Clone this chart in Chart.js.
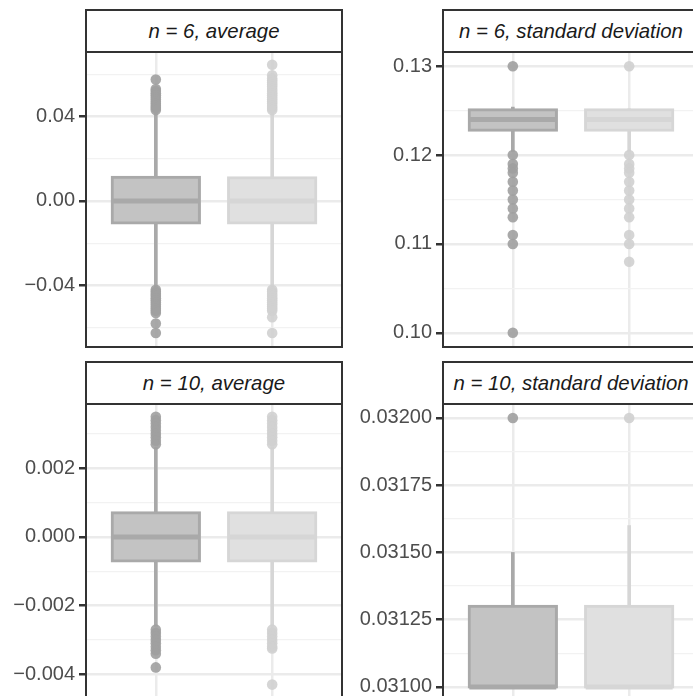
<!DOCTYPE html>
<html>
<head>
<meta charset="utf-8">
<script src="https://cdn.jsdelivr.net/npm/chart.js@4.4.1/dist/chart.umd.min.js"></script>
<style>
  html, body { margin:0; padding:0; background:#fff; overflow:hidden; width:693px; height:696px; }
  .strip { position:absolute; box-sizing:border-box; border:2px solid #333; background:#fff;
           font-family:"Liberation Sans", Arial, sans-serif; font-style:italic; font-size:20.4px; color:#1a1a1a;
           display:flex; align-items:center; justify-content:center; white-space:nowrap; }
  canvas { position:absolute; }
</style>
</head>
<body>
<script>
// ---------- data ----------
const categories = ['A', 'B'];           // two groups (x labels not shown in the crop)
const panelTitles = ['n = 6, average', 'n = 6, standard deviation', 'n = 10, average', 'n = 10, standard deviation'];

// panel 1: n = 6, average
const p1Q1 = [-0.0104, -0.0104];
const p1Med = [0.0, 0.0];
const p1Q3 = [0.0112, 0.0110];
const p1WhiskerLow = [-0.042, -0.042];
const p1WhiskerHigh = [0.042, 0.042];
const p1OutA = [0.0575, 0.053, 0.052, 0.051, 0.050, 0.049, 0.048, 0.047, 0.046, 0.045, 0.044, 0.043,
                -0.042, -0.043, -0.044, -0.045, -0.046, -0.047, -0.048, -0.049, -0.050, -0.051, -0.052, -0.053, -0.058, -0.0625];
const p1OutB = [0.0645, 0.0595, 0.058, 0.057, 0.056, 0.055, 0.054, 0.053, 0.052, 0.051, 0.050, 0.049, 0.048, 0.047, 0.046, 0.045, 0.044, 0.043,
                -0.042, -0.043, -0.044, -0.045, -0.046, -0.047, -0.048, -0.049, -0.050, -0.051, -0.052, -0.055, -0.0625];
const p1Major = [-0.04, 0.0, 0.04];
const p1Minor = [-0.06, -0.02, 0.02, 0.06];
const p1Labels = ['\u22120.04', '0.00', '0.04'];

// panel 2: n = 6, standard deviation
const p2Q1 = [0.1228, 0.1228];
const p2Med = [0.1240, 0.1240];
const p2Q3 = [0.1251, 0.1251];
const p2WhiskerLow = [0.1204, 0.1204];
const p2WhiskerHigh = [0.1254, 0.1252];
const p2OutA = [0.130, 0.120, 0.119, 0.1185, 0.118, 0.117, 0.116, 0.115, 0.114, 0.113, 0.111, 0.110, 0.100];
const p2OutB = [0.130, 0.120, 0.119, 0.1185, 0.118, 0.117, 0.116, 0.115, 0.114, 0.113, 0.111, 0.110, 0.108];
const p2Major = [0.10, 0.11, 0.12, 0.13];
const p2Minor = [0.105, 0.115, 0.125];
const p2Labels = ['0.10', '0.11', '0.12', '0.13'];

// panel 3: n = 10, average
const p3Q1 = [-0.0007, -0.0007];
const p3Med = [0.0, 0.0];
const p3Q3 = [0.0007, 0.0007];
const p3WhiskerLow = [-0.0026, -0.0026];
const p3WhiskerHigh = [0.0026, 0.0026];
const p3OutA = [0.0035, 0.0034, 0.0033, 0.0032, 0.0031, 0.0030, 0.0029, 0.0028, 0.0027,
                -0.0027, -0.0028, -0.0029, -0.0030, -0.0031, -0.0032, -0.0033, -0.0034, -0.0038];
const p3OutB = [0.0035, 0.0034, 0.0033, 0.0032, 0.0031, 0.0030, 0.0029, 0.0028, 0.0027,
                -0.0027, -0.0028, -0.0029, -0.0030, -0.0031, -0.0032, -0.00325, -0.0043];
const p3Major = [-0.004, -0.002, 0.0, 0.002];
const p3Minor = [-0.005, -0.003, -0.001, 0.001, 0.003];
const p3Labels = ['\u22120.004', '\u22120.002', '0.000', '0.002'];

// panel 4: n = 10, standard deviation
const p4Q1 = [0.03100, 0.03100];
const p4Med = [0.03100, 0.03100];
const p4Q3 = [0.03130, 0.03130];
const p4WhiskerLow = [0.03100, 0.03100];
const p4WhiskerHigh = [0.03150, 0.03160];
const p4OutA = [0.03200];
const p4OutB = [0.03200];
const p4Major = [0.03100, 0.03125, 0.03150, 0.03175, 0.03200];
const p4Minor = [0.031125, 0.031375, 0.031625, 0.031875];
const p4Labels = ['0.03100', '0.03125', '0.03150', '0.03175', '0.03200'];

// y ranges (panel limits)
const yRanges = [[-0.0691, 0.0705], [0.0984, 0.1316], [-0.00472, 0.00387], [0.030955, 0.032052]];

// ---------- styling ----------
const boxFill = ['#c3c3c3', '#e0e0e0'];
const boxLine = ['#a9a9a9', '#d6d6d6'];
const pointCol = ['rgba(160,160,160,0.9)', 'rgba(208,208,208,0.9)'];
const FONT = '"Liberation Sans", Arial, sans-serif';

const panels = [
  {title: panelTitles[0], left: 86, top: 52, q1: p1Q1, med: p1Med, q3: p1Q3, wl: p1WhiskerLow, wh: p1WhiskerHigh, out: [p1OutA, p1OutB], major: p1Major, minor: p1Minor, labels: p1Labels, range: yRanges[0]},
  {title: panelTitles[1], left: 443, top: 52, q1: p2Q1, med: p2Med, q3: p2Q3, wl: p2WhiskerLow, wh: p2WhiskerHigh, out: [p2OutA, p2OutB], major: p2Major, minor: p2Minor, labels: p2Labels, range: yRanges[1]},
  {title: panelTitles[2], left: 86, top: 404, q1: p3Q1, med: p3Med, q3: p3Q3, wl: p3WhiskerLow, wh: p3WhiskerHigh, out: [p3OutA, p3OutB], major: p3Major, minor: p3Minor, labels: p3Labels, range: yRanges[2]},
  {title: panelTitles[3], left: 443, top: 404, q1: p4Q1, med: p4Med, q3: p4Q3, wl: p4WhiskerLow, wh: p4WhiskerHigh, out: [p4OutA, p4OutB], major: p4Major, minor: p4Minor, labels: p4Labels, range: yRanges[3]},
];

const PW = 256, PH = 295, AXW = 86, PAD = 20, STRIP = 43;

const borderPlugin = {
  id: 'panelBorder',
  afterDraw(chart) {
    const {ctx, chartArea: a} = chart;
    ctx.save();
    ctx.strokeStyle = '#333';
    ctx.lineWidth = 2;
    ctx.strokeRect(a.left, a.top, a.right - a.left, a.bottom - a.top);
    ctx.restore();
  }
};

panels.forEach((p, pi) => {
  // strip
  const s = document.createElement('div');
  s.className = 'strip';
  s.style.left = (p.left - 1) + 'px';
  s.style.top = (p.top - STRIP) + 'px';
  s.style.width = (PW + 2) + 'px';
  s.style.height = (STRIP + 1) + 'px';
  s.textContent = p.title;
  document.body.appendChild(s);

  const c = document.createElement('canvas');
  c.style.left = (p.left - AXW) + 'px';
  c.style.top = (p.top - PAD) + 'px';
  c.width = AXW + PW + PAD; c.height = PH + 2 * PAD;
  c.style.width = c.width + 'px'; c.style.height = c.height + 'px';
  document.body.insertBefore(c, document.body.firstChild);

  const allTicks = p.major.concat(p.minor).sort((a, b) => a - b);
  const labelFor = v => { const i = p.major.findIndex(m => Math.abs(m - v) < 1e-9); return i >= 0 ? p.labels[i] : ''; };
  const isMajor = v => p.major.some(m => Math.abs(m - v) < 1e-9);

  const datasets = [];
  // whiskers (lower & upper), drawn as thin floating bars
  [0, 1].forEach(g => {
    datasets.push({
      type: 'bar', grouped: false, order: 3,
      data: [{x: g + 1, y: [p.wl[g], p.q1[g]]}, {x: g + 1, y: [p.q3[g], p.wh[g]]}],
      backgroundColor: boxLine[g], borderWidth: 0, barThickness: 3,
    });
  });
  // boxes
  [0, 1].forEach(g => {
    datasets.push({
      type: 'bar', grouped: false, order: 2,
      data: [{x: g + 1, y: [p.q1[g], p.q3[g]]}],
      backgroundColor: boxFill[g], borderColor: boxLine[g], borderWidth: 3,
      borderSkipped: false, inflateAmount: 1.5,
      barPercentage: 0.75, categoryPercentage: 1,
    });
  });
  // medians
  [0, 1].forEach(g => {
    datasets.push({
      type: 'scatter', order: 1,
      data: [{x: g + 1, y: p.med[g]}],
      pointStyle: 'line', pointRadius: 43.5, borderColor: boxLine[g], borderWidth: 5,
    });
  });
  // outliers
  [0, 1].forEach(g => {
    datasets.push({
      type: 'scatter', order: 0,
      data: p.out[g].map(v => ({x: g + 1, y: v})),
      pointRadius: 5.3, pointBorderWidth: 0, backgroundColor: pointCol[g], borderColor: pointCol[g],
    });
  });

  new Chart(c, {
    type: 'bar',
    data: {datasets},
    options: {
      responsive: false, animation: false, devicePixelRatio: 1,
      layout: {autoPadding: false, padding: {top: PAD, bottom: PAD, right: PAD, left: 0}},
      plugins: {legend: {display: false}, tooltip: {enabled: false}},
      scales: {
        x: {
          type: 'linear', min: 0.4, max: 2.6, offset: false,
          afterBuildTicks: sc => { sc.ticks = categories.map((_, i) => ({value: i + 1})); },
          afterFit: sc => { sc.height = 0; },
          ticks: {display: false},
          border: {display: false},
          grid: {offset: false, color: '#ebebeb', lineWidth: 2.5, drawTicks: false},
        },
        y: {
          type: 'linear', min: p.range[0], max: p.range[1],
          afterBuildTicks: sc => { sc.ticks = allTicks.map(v => ({value: v})); },
          afterFit: sc => { sc.width = AXW; },
          border: {display: false},
          ticks: {
            autoSkip: false, padding: 4, color: '#4d4d4d',
            font: {family: FONT, size: 20},
            callback: v => labelFor(v),
          },
          grid: {
            color: ctx => isMajor(ctx.tick.value) ? '#ebebeb' : '#f2f2f2',
            lineWidth: ctx => isMajor(ctx.tick.value) ? 2.5 : 1.3,
            tickColor: ctx => isMajor(ctx.tick.value) ? '#333' : 'rgba(0,0,0,0)',
            tickLength: 7, tickWidth: 2.5,
          },
        },
      },
    },
    plugins: [borderPlugin],
  });
});
</script>
</body>
</html>
